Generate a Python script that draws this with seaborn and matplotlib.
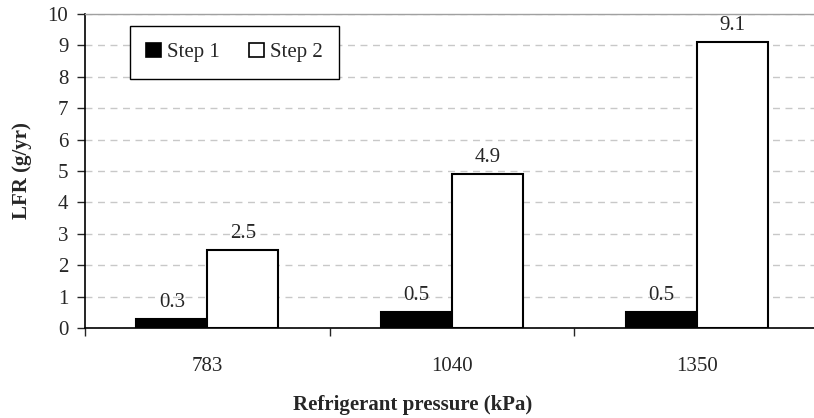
import matplotlib
matplotlib.use('Agg')
import matplotlib.pyplot as plt
import pandas as pd
import seaborn as sns

# data
pressure = ['783', '1040', '1350']
step1 = [0.3, 0.5, 0.5]
step2 = [2.5, 4.9, 9.1]
steps = ['Step 1', 'Step 2']

df = pd.DataFrame({
    'pressure': pressure * 2,
    'LFR': step1 + step2,
    'step': [steps[0]] * 3 + [steps[1]] * 3,
})

sns.set_style('white')
plt.rcParams['font.family'] = ['Liberation Serif', 'DejaVu Serif']

fig = plt.figure(figsize=(8.14, 4.18), dpi=100)
ax = fig.add_axes([0.1044, 0.2153, 0.9017, 0.7512])

sns.barplot(data=df, x='pressure', y='LFR', hue='step', order=pressure, hue_order=steps,
            palette=['black', 'white'], saturation=1, width=0.58, errorbar=None,
            edgecolor='black', linewidth=1.5, ax=ax)

for c in ax.containers:
    ax.bar_label(c, fmt='%.1f', padding=5, fontsize=15)

# axes styling
ax.set_ylim(0, 10)
ax.set_xlim(-0.5, 2.5)
ax.set_yticks(range(0, 11))
ax.yaxis.grid(True, linestyle=(0, (5, 4)), color='#c8c8c8', linewidth=1)
ax.set_axisbelow(True)

for s in ['left', 'bottom']:
    ax.spines[s].set_color('black')
    ax.spines[s].set_linewidth(1.2)
ax.spines['right'].set_visible(False)
ax.spines['top'].set_color('#a0a0a0')
ax.spines['top'].set_linewidth(1)

ax.tick_params(axis='y', left=True, length=6, width=1, direction='out', labelsize=15, pad=6)
ax.set_xticks([0, 1, 2])
ax.set_xticklabels(pressure)
ax.set_xticks([-0.5, 0.5, 1.5, 2.5], minor=True)
ax.tick_params(axis='x', which='major', bottom=True, length=0, labelsize=15, pad=21)
ax.tick_params(axis='x', which='minor', bottom=True, length=6, width=1, direction='out')

ax.set_xlabel('Refrigerant pressure (kPa)', fontsize=15, fontweight='bold')
ax.set_ylabel('LFR (g/yr)', fontsize=15, fontweight='bold')
ax.xaxis.set_label_coords(0.447, -0.2134)
ax.yaxis.set_label_coords(-0.072, 0.5)

leg = ax.legend(loc='upper left', bbox_to_anchor=(0.061, 0.962), ncol=2, fontsize=15,
                frameon=True, fancybox=False, edgecolor='black', framealpha=1,
                handlelength=0.7, handleheight=0.7, handletextpad=0.3,
                columnspacing=1.4, borderpad=0.8, borderaxespad=0)
leg.get_frame().set_linewidth(1)
for h in leg.legend_handles:
    h.set_edgecolor('black')
    h.set_linewidth(1.2)

fig.savefig('out.png', dpi=100)
